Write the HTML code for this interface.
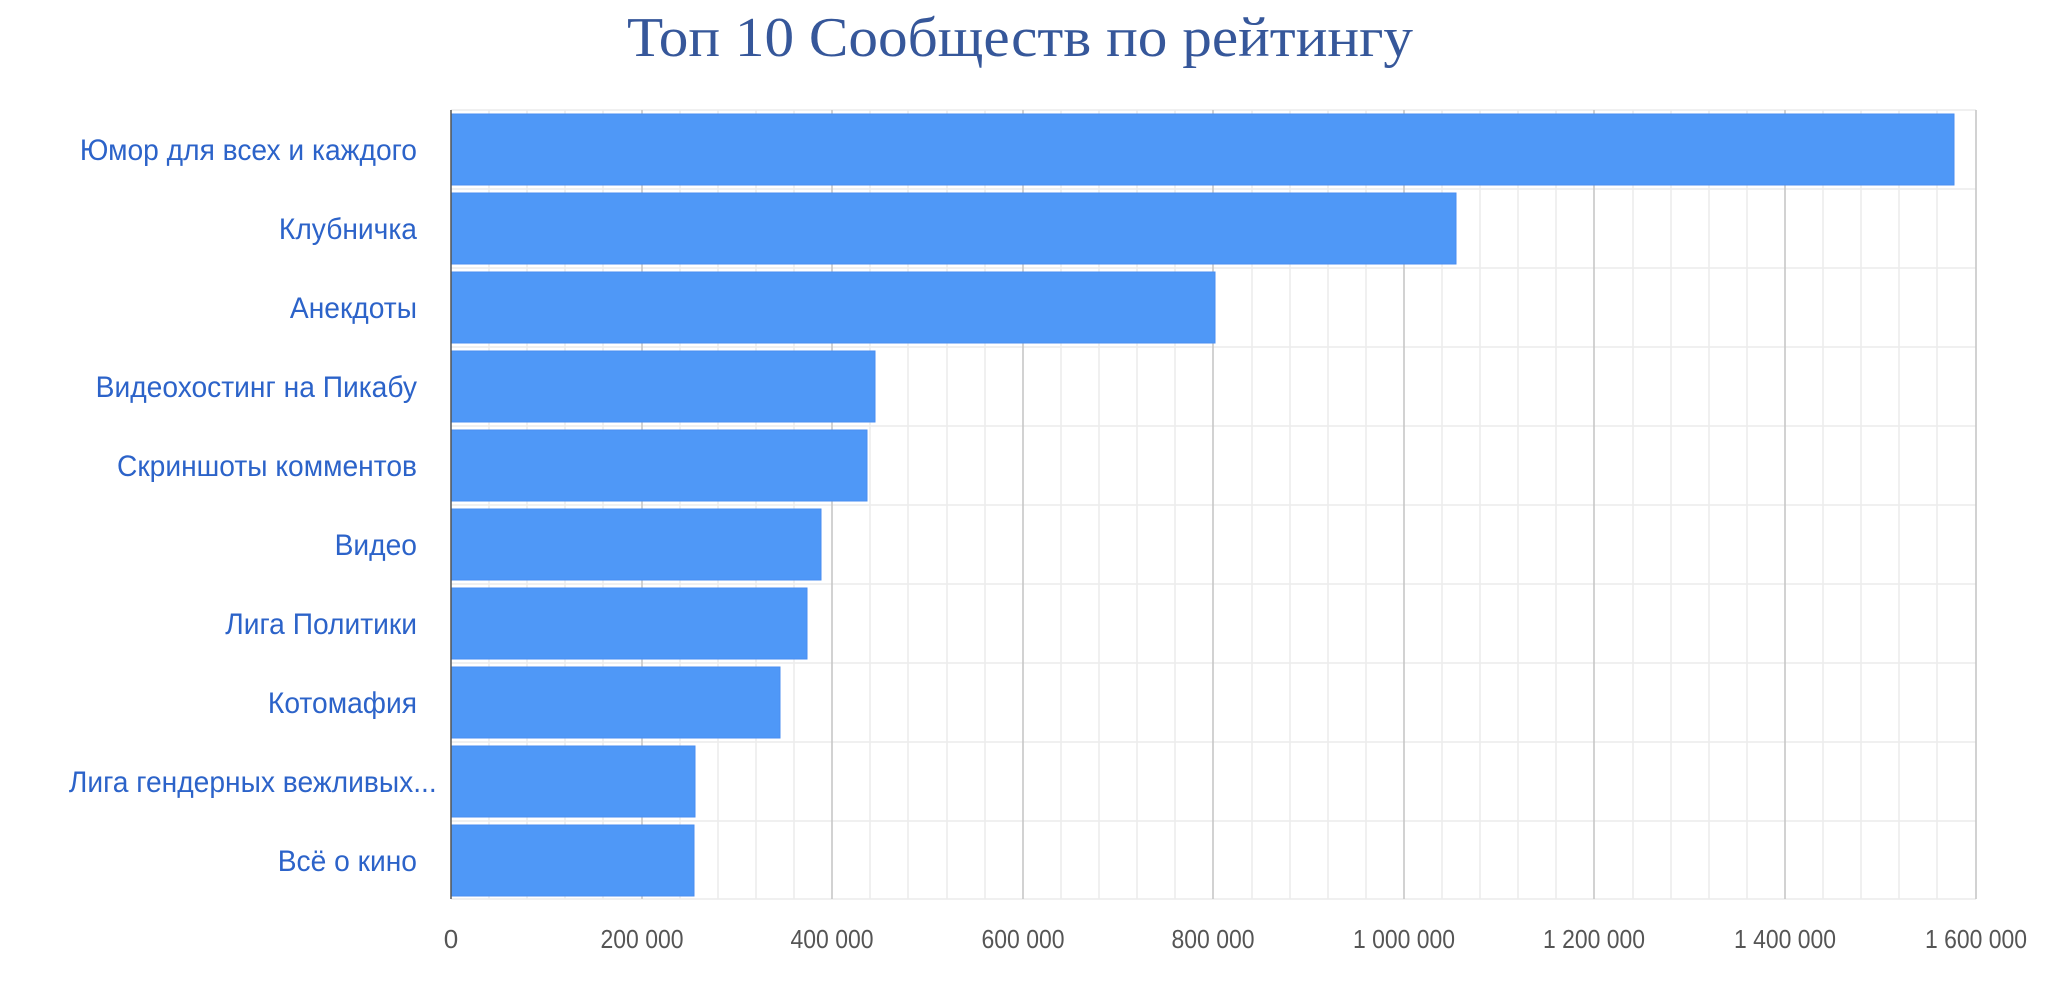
<!DOCTYPE html>
<html><head><meta charset="utf-8"><style>
html,body{margin:0;padding:0;background:#fff;}
svg{display:block;}
</style></head><body>
<svg width="2048" height="981" viewBox="0 0 2048 981" xmlns="http://www.w3.org/2000/svg">
<rect width="2048" height="981" fill="#fff"/>
<text x="1020" y="56" text-anchor="middle" font-family="Liberation Serif, serif" font-size="56" fill="#36579a" textLength="786" lengthAdjust="spacingAndGlyphs">Топ 10 Сообществ по рейтингу</text>
<g stroke="#ececec" stroke-width="1.5">
<line x1="489" y1="110" x2="489" y2="899"/><line x1="527" y1="110" x2="527" y2="899"/><line x1="565" y1="110" x2="565" y2="899"/><line x1="603" y1="110" x2="603" y2="899"/>
<line x1="680" y1="110" x2="680" y2="899"/><line x1="718" y1="110" x2="718" y2="899"/><line x1="756" y1="110" x2="756" y2="899"/><line x1="794" y1="110" x2="794" y2="899"/>
<line x1="870" y1="110" x2="870" y2="899"/><line x1="908" y1="110" x2="908" y2="899"/><line x1="947" y1="110" x2="947" y2="899"/><line x1="985" y1="110" x2="985" y2="899"/>
<line x1="1061" y1="110" x2="1061" y2="899"/><line x1="1099" y1="110" x2="1099" y2="899"/><line x1="1137" y1="110" x2="1137" y2="899"/><line x1="1175" y1="110" x2="1175" y2="899"/>
<line x1="1252" y1="110" x2="1252" y2="899"/><line x1="1290" y1="110" x2="1290" y2="899"/><line x1="1328" y1="110" x2="1328" y2="899"/><line x1="1366" y1="110" x2="1366" y2="899"/>
<line x1="1442" y1="110" x2="1442" y2="899"/><line x1="1480" y1="110" x2="1480" y2="899"/><line x1="1518" y1="110" x2="1518" y2="899"/><line x1="1556" y1="110" x2="1556" y2="899"/>
<line x1="1633" y1="110" x2="1633" y2="899"/><line x1="1671" y1="110" x2="1671" y2="899"/><line x1="1709" y1="110" x2="1709" y2="899"/><line x1="1747" y1="110" x2="1747" y2="899"/>
<line x1="1823" y1="110" x2="1823" y2="899"/><line x1="1861" y1="110" x2="1861" y2="899"/><line x1="1899" y1="110" x2="1899" y2="899"/><line x1="1937" y1="110" x2="1937" y2="899"/>
<line x1="451" y1="110" x2="1976" y2="110"/><line x1="451" y1="189" x2="1976" y2="189"/><line x1="451" y1="268" x2="1976" y2="268"/><line x1="451" y1="347" x2="1976" y2="347"/><line x1="451" y1="426" x2="1976" y2="426"/><line x1="451" y1="505" x2="1976" y2="505"/><line x1="451" y1="584" x2="1976" y2="584"/><line x1="451" y1="663" x2="1976" y2="663"/><line x1="451" y1="742" x2="1976" y2="742"/><line x1="451" y1="821" x2="1976" y2="821"/><line x1="451" y1="899" x2="1976" y2="899"/>
</g>
<g stroke="#c4c4c4" stroke-width="1.5">
<line x1="642" y1="110" x2="642" y2="899"/><line x1="832" y1="110" x2="832" y2="899"/><line x1="1023" y1="110" x2="1023" y2="899"/><line x1="1213" y1="110" x2="1213" y2="899"/><line x1="1404" y1="110" x2="1404" y2="899"/><line x1="1594" y1="110" x2="1594" y2="899"/><line x1="1785" y1="110" x2="1785" y2="899"/><line x1="1976" y1="110" x2="1976" y2="899"/>
</g>
<g fill="#4f98f7" stroke="#4a8ef0" stroke-width="1">
<rect x="451" y="114" width="1503" height="71"/>
<rect x="451" y="193" width="1005" height="71"/>
<rect x="451" y="272" width="764" height="71"/>
<rect x="451" y="351" width="424" height="71"/>
<rect x="451" y="430" width="416" height="71"/>
<rect x="451" y="509" width="370" height="71"/>
<rect x="451" y="588" width="356" height="71"/>
<rect x="451" y="667" width="329" height="71"/>
<rect x="451" y="746" width="244" height="71"/>
<rect x="451" y="825" width="243" height="71"/>
</g>
<line x1="451" y1="110" x2="451" y2="899" stroke="#555" stroke-width="1.5"/>
<g font-family="Liberation Sans, sans-serif" font-size="30" fill="#2c63c9" text-anchor="end" transform="translate(417,0) scale(0.94,1) translate(-417,0)">
<text x="417" y="160">Юмор для всех и каждого</text>
<text x="417" y="239">Клубничка</text>
<text x="417" y="318">Анекдоты</text>
<text x="417" y="397">Видеохостинг на Пикабу</text>
<text x="417" y="476">Скриншоты комментов</text>
<text x="417" y="555">Видео</text>
<text x="417" y="634">Лига Политики</text>
<text x="417" y="713">Котомафия</text>
<text x="438" y="792">Лига гендерных вежливых...</text>
<text x="417" y="871">Всё о кино</text>
</g>
<g font-family="Liberation Sans, sans-serif" font-size="26" fill="#555" text-anchor="middle">
<text x="451" y="948">0</text>
<text x="642" y="948" textLength="83" lengthAdjust="spacingAndGlyphs">200 000</text>
<text x="832" y="948" textLength="83" lengthAdjust="spacingAndGlyphs">400 000</text>
<text x="1023" y="948" textLength="83" lengthAdjust="spacingAndGlyphs">600 000</text>
<text x="1213" y="948" textLength="83" lengthAdjust="spacingAndGlyphs">800 000</text>
<text x="1404" y="948" textLength="102" lengthAdjust="spacingAndGlyphs">1 000 000</text>
<text x="1594" y="948" textLength="102" lengthAdjust="spacingAndGlyphs">1 200 000</text>
<text x="1785" y="948" textLength="102" lengthAdjust="spacingAndGlyphs">1 400 000</text>
<text x="1976" y="948" textLength="102" lengthAdjust="spacingAndGlyphs">1 600 000</text>
</g>
</svg>
</body></html>
